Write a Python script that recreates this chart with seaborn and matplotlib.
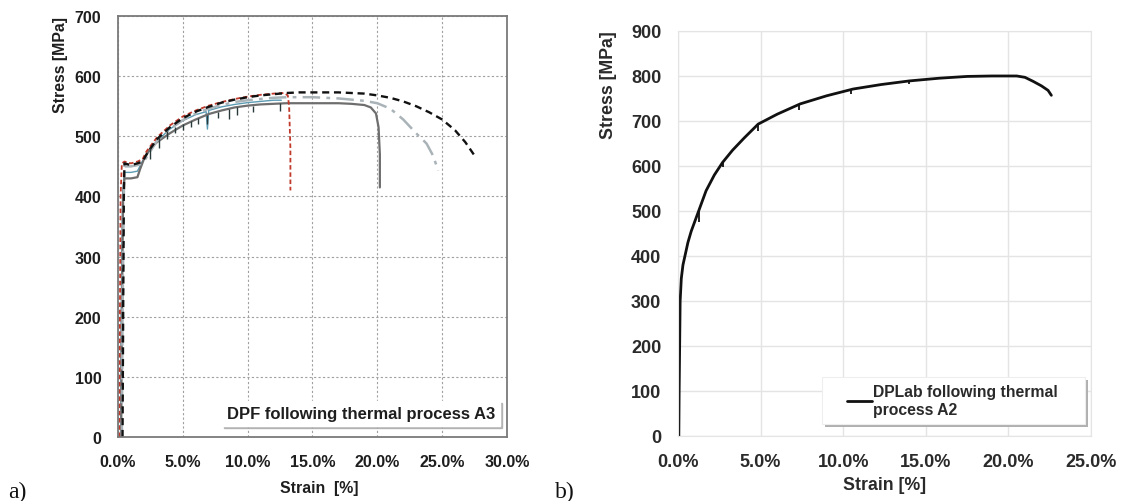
import numpy as np
import matplotlib
matplotlib.use('Agg')
import matplotlib.pyplot as plt
import seaborn as sns
from matplotlib.ticker import FuncFormatter
from matplotlib.patches import Rectangle

# ---- Panel a) : DPF following thermal process A3 (strain in %, stress in MPa)
a_black_strain = [0.35, 0.4, 0.45, 0.5, 1.0, 1.5, 1.9, 2.2, 3.0, 4.0, 5.0, 6.0, 7.0, 8.0, 9.0, 10.0,
                  11.0, 12.0, 13.0, 14.0, 15.0, 16.0, 17.0, 18.0, 19.0, 20.0, 21.0, 22.0, 23.0, 24.0,
                  25.0, 26.0, 26.8, 27.5]
a_black_stress = [0, 200, 400, 455, 452, 455, 458, 470, 495, 515, 530, 541, 549, 556, 561, 565,
                  568, 570, 572, 573, 573, 573, 573, 572, 571, 568, 564, 558, 550, 540,
                  528, 510, 490, 468]

a_grey_strain = [0.3, 0.35, 0.45, 0.5, 1.0, 1.5, 1.9, 2.2, 3.0, 4.0, 5.0, 6.0, 7.0, 8.0, 9.0, 10.0,
                 11.0, 12.0, 13.0, 14.0, 15.0, 16.0, 17.0, 18.0, 19.0, 20.0, 21.0, 22.0, 23.0, 23.8,
                 24.3, 24.7]
a_grey_stress = [0, 200, 400, 450, 450, 452, 455, 465, 492, 512, 527, 538, 546, 552, 557, 560,
                 562, 564, 565, 565, 565, 564, 563, 561, 559, 555, 546, 528, 505, 488,
                 468, 443]

a_solid_strain = [0.25, 0.3, 0.4, 0.5, 1.0, 1.5, 1.7, 2.0, 2.5, 3.0, 4.0, 5.0, 6.0, 7.0, 8.0, 9.0,
                  10.0, 11.0, 12.0, 13.0, 14.0, 15.0, 16.0, 17.0, 18.0, 19.0, 19.5, 19.9, 20.1,
                  20.2, 20.2]
a_solid_stress = [0, 200, 400, 430, 430, 432, 445, 462, 480, 490, 505, 518, 528, 537, 543, 548,
                  551, 553, 554, 555, 555, 555, 555, 555, 554, 552, 548, 538, 515,
                  470, 415]

a_red_strain = [0.1, 0.15, 0.2, 0.3, 0.5, 1.0, 1.5, 1.9, 2.2, 3.0, 4.0, 5.0, 6.0, 7.0, 8.0, 9.0,
                10.0, 11.0, 12.0, 12.8, 13.1, 13.2, 13.3, 13.3]
a_red_stress = [0, 200, 400, 455, 458, 455, 458, 462, 475, 498, 518, 533, 543, 551, 557, 562,
                566, 569, 571, 572, 568, 550, 480, 410]

a_teal_strain = [0.2, 0.25, 0.35, 0.5, 1.0, 1.5, 1.8, 2.2, 3.0, 4.0, 5.0, 6.0, 6.8, 6.9, 7.0, 8.0,
                 9.0, 10.0, 11.0, 12.0, 12.6]
a_teal_stress = [0, 200, 400, 440, 440, 442, 455, 470, 492, 512, 526, 536, 541, 512, 543, 549,
                 553, 556, 558, 560, 560]

# serrations on the lower curve (strain, top, bottom)
a_spike_strain = [2.5, 3.2, 3.8, 4.4, 5.0, 5.6, 6.2, 6.9, 7.7, 8.6, 9.2, 10.4, 12.5]
a_spike_top = [480, 498, 508, 515, 520, 526, 530, 535, 541, 545, 548, 551, 555]
a_spike_bottom = [462, 480, 496, 505, 510, 515, 520, 520, 530, 529, 535, 540, 542]

# ---- Panel b) : DPLab following thermal process A2
b_strain = [0.05, 0.07, 0.1, 0.13, 0.2, 0.3, 0.42, 0.6, 0.8, 1.0, 1.3, 1.7, 2.2, 2.7, 3.3, 4.0,
            4.85, 6.0, 7.4, 9.0, 10.6, 12.3, 14.0, 15.8, 17.5, 19.0, 20.5, 21.0, 21.5, 22.0,
            22.4, 22.6]
b_stress = [0, 100, 200, 300, 350, 380, 400, 430, 455, 475, 505, 545, 580, 608, 635, 662,
            693, 715, 738, 756, 771, 781, 789, 795, 799, 800, 800, 797, 788, 778,
            768, 757]
b_spike_strain = [1.3, 2.7, 4.85, 7.3, 10.5, 14.0]
b_spike_top = [505, 608, 693, 737, 770, 789]
b_spike_bottom = [476, 598, 678, 724, 761, 782]

sns.set_style('white')
plt.rcParams['font.family'] = ['Liberation Sans', 'DejaVu Sans']

fig = plt.figure(figsize=(11.3, 5.02), dpi=100)
ax1 = fig.add_axes([0.1044, 0.1275, 0.3442, 0.8386])
ax2 = fig.add_axes([0.6, 0.1295, 0.3655, 0.8068])

pct = FuncFormatter(lambda v, p: f'{v:.1f}%')
txt = '#1e1e1e'
shadow = {'color': '#a8a8a8', 'alpha': 0.8, 'ox': 1.6, 'oy': -1.6}

# ---- a)
sns.lineplot(x=a_teal_strain, y=a_teal_stress, sort=False, estimator=None, ax=ax1,
             color='#5b9bb3', lw=1.0)
sns.lineplot(x=a_solid_strain, y=a_solid_stress, sort=False, estimator=None, ax=ax1,
             color='#6e6e6e', lw=1.6)
sns.lineplot(x=a_grey_strain, y=a_grey_stress, sort=False, estimator=None, ax=ax1,
             color='#a9b3b8', lw=1.8, linestyle=(0, (7, 2.5, 1.5, 2.5)))
sns.lineplot(x=a_red_strain, y=a_red_stress, sort=False, estimator=None, ax=ax1,
             color='#c0392b', lw=1.3, linestyle=(0, (2.5, 1.5)))
sns.lineplot(x=a_black_strain, y=a_black_stress, sort=False, estimator=None, ax=ax1,
             color='#111111', lw=1.7, linestyle=(0, (3, 2)))
ax1.vlines(a_spike_strain, a_spike_bottom, a_spike_top, color='#2a3a3a', lw=1.0)

ax1.set_xlim(0, 30)
ax1.set_ylim(0, 700)
ax1.set_xticks(np.arange(0, 31, 5))
ax1.set_yticks(np.arange(0, 701, 100))
ax1.xaxis.set_major_formatter(pct)
ax1.grid(True, color='#a0a0a0', lw=0.8, linestyle=(0, (2, 2)))
for s in ax1.spines.values():
    s.set_color('#7a7a7a')
    s.set_linewidth(1.3)
ax1.tick_params(length=0, labelsize=11.5, labelcolor=txt, pad=12)
for lab in ax1.get_xticklabels() + ax1.get_yticklabels():
    lab.set_fontweight('bold')
ax1.set_ylabel('Stress [MPa]', fontsize=11.4, fontweight='bold', color=txt)
ax1.set_xlabel('Strain  [%]', fontsize=11.4, fontweight='bold', color=txt)
ax1.yaxis.set_label_coords(-0.129, 0.886)
ax1.xaxis.set_label_coords(0.517, -0.102)
leg1 = ax1.legend([plt.Line2D([], [], alpha=0)], ['DPF following thermal process A3'],
                  loc='lower right', bbox_to_anchor=(0.982, 0.026), borderaxespad=0,
                  handlelength=0, handletextpad=0, shadow=shadow, fancybox=False,
                  framealpha=1, prop={'weight': 'bold', 'size': 12}, borderpad=0.3)
leg1.get_frame().set_edgecolor('white')
for t in leg1.get_texts():
    t.set_color(txt)

# ---- b)
sns.lineplot(x=b_strain, y=b_stress, sort=False, estimator=None, ax=ax2,
             color='#111111', lw=2.0, label='DPLab following thermal\nprocess A2')
ax2.vlines(b_spike_strain, b_spike_bottom, b_spike_top, color='#111111', lw=1.3)

ax2.set_xlim(0, 25)
ax2.set_ylim(0, 900)
ax2.set_xticks(np.arange(0, 26, 5))
ax2.set_yticks(np.arange(0, 901, 100))
ax2.xaxis.set_major_formatter(pct)
ax2.grid(True, color='#e4e4e4', lw=1.0)
for s in ax2.spines.values():
    s.set_color('#e4e4e4')
ax2.tick_params(length=0, labelsize=13, labelcolor='#2a2a2a', pad=12)
for lab in ax2.get_xticklabels() + ax2.get_yticklabels():
    lab.set_fontweight('bold')
ax2.set_ylabel('Stress [MPa]', fontsize=12.8, fontweight='bold', color='#2a2a2a')
ax2.set_xlabel('Strain [%]', fontsize=12.8, fontweight='bold', color='#2a2a2a')
ax2.yaxis.set_label_coords(-0.148, 0.869)
ax2.xaxis.set_label_coords(0.499, -0.099)

# legend box with a soft shadow, drawn behind a frameless legend
ax2.add_patch(Rectangle((0.356, 0.022), 0.636, 0.116, transform=ax2.transAxes,
                        facecolor='#b0b0b0', edgecolor='none', zorder=4))
ax2.add_patch(Rectangle((0.349, 0.03), 0.636, 0.116, transform=ax2.transAxes,
                        facecolor='white', edgecolor='#eeeeee', lw=0.8, zorder=4.5))
leg2 = ax2.legend(loc='upper left', bbox_to_anchor=(0.41, 0.128), borderaxespad=0,
                  handlelength=1.55, handletextpad=0.1, frameon=False,
                  prop={'weight': 'bold', 'size': 11.3}, borderpad=0, labelspacing=0.2)
leg2.set_zorder(5)
for t in leg2.get_texts():
    t.set_color('#2a2a2a')

fig.text(0.007, 0.008, 'a)', fontsize=17, family=['Liberation Serif', 'DejaVu Serif'],
         color='#111111')
fig.text(0.491, 0.008, 'b)', fontsize=17, family=['Liberation Serif', 'DejaVu Serif'],
         color='#111111')

fig.savefig('out.png', dpi=100)
